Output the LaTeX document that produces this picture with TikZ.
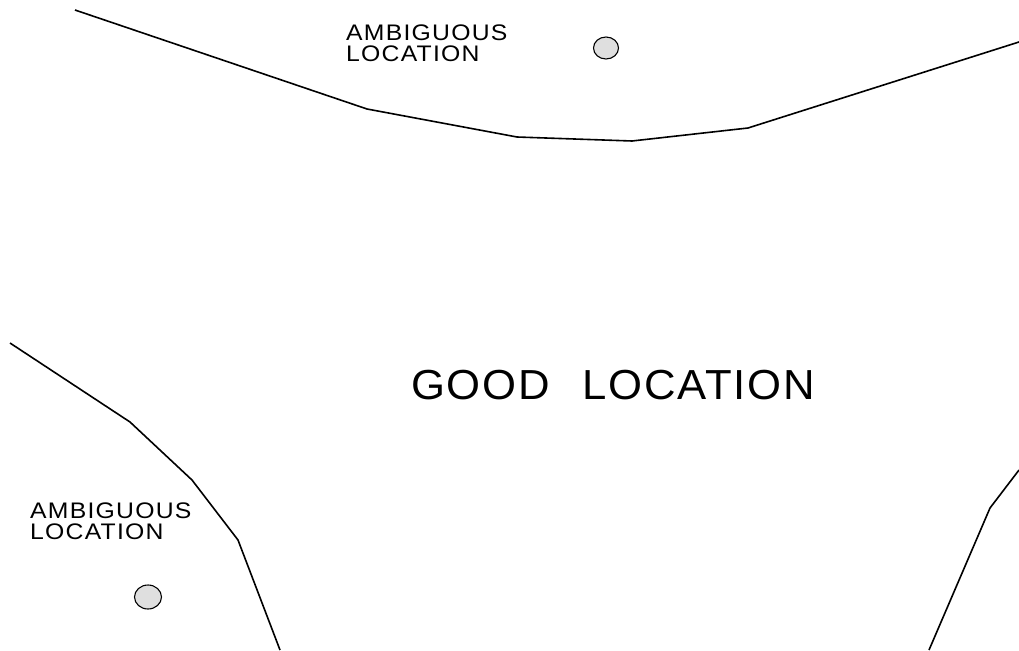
\documentclass[tikz,border=0pt]{standalone}
\usepackage{fontspec}
\setmainfont{Liberation Sans}
\usetikzlibrary{shapes.geometric}
\tikzset{
  boundary/.style={line width=1.6pt, line join=round},
  spot/.style={draw, line width=1.1pt, fill=gray!25, ellipse, inner sep=0pt},
  smalllabel/.style={font=\fontsize{22.5}{21}\selectfont\addfontfeature{LetterSpace=5}, align=left, anchor=north west, inner sep=0pt, xscale=1.1},
  biglabel/.style={font=\fontsize{42}{44}\selectfont\addfontfeature{LetterSpace=4}, inner sep=0pt, xscale=1.04}
}
\begin{document}
\begin{tikzpicture}[x=1pt,y=-1pt]
\useasboundingbox (0,0) rectangle (1019,650);
% top boundary
\coordinate (t1) at (75,10);
\coordinate (t2) at (367,109);
\coordinate (t3) at (517,137);
\coordinate (t4) at (632,141);
\coordinate (t5) at (748,128);
\coordinate (t6) at (1019,42);
\draw[boundary] (t1) -- (t2) -- (t3) -- (t4) -- (t5) -- (t6);
% left boundary
\coordinate (l1) at (10,343);
\coordinate (l2) at (130,422);
\coordinate (l3) at (192,480);
\coordinate (l4) at (238,540);
\coordinate (l5) at (280,650);
\draw[boundary] (l1) -- (l2) -- (l3) -- (l4) -- (l5);
% right boundary
\coordinate (r1) at (1019,470);
\coordinate (r2) at (990,508);
\coordinate (r3) at (929,650);
\draw[boundary] (r1) -- (r2) -- (r3);
% labels
\node[smalllabel] (amb1) at (346,25) {AMBIGUOUS\\LOCATION};
\node[smalllabel] (amb2) at (30,503) {AMBIGUOUS\\LOCATION};
\node[biglabel] (good) at (613,385) {GOOD\hspace{0.75em}LOCATION};
% spots
\node[spot, minimum width=25pt, minimum height=22pt] (s1) at (606,48) {};
\node[spot, minimum width=27pt, minimum height=24pt] (s2) at (148,597) {};
\end{tikzpicture}
\end{document}
